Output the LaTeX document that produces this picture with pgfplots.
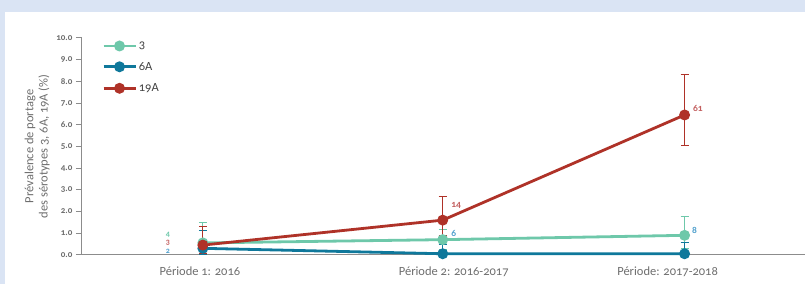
\documentclass[border=0pt]{standalone}
\usepackage{fontspec}
\setmainfont{Carlito}[Numbers=OldStyle]
\usepackage{pgfplots}
\pgfplotsset{compat=1.18}
\definecolor{bgblue}{RGB}{218,228,244}
\definecolor{cgreen}{RGB}{110,200,170}
\definecolor{cblue}{RGB}{15,120,155}
\definecolor{cred}{RGB}{175,50,40}
\definecolor{axgray}{RGB}{140,140,140}
\definecolor{txtgray}{RGB}{110,110,110}
\definecolor{lblue}{RGB}{80,160,205}
\definecolor{lred}{RGB}{195,95,95}
\begin{document}
\begin{tikzpicture}[x=1pt,y=1pt]
\fill[bgblue] (0,0) rectangle (805,284);
\fill[white] (5,0) rectangle (805,272);
\begin{axis}[
  at={(82pt,29pt)}, anchor=origin,
  scale only axis, width=723pt, height=217pt,
  xmin=82, xmax=805, ymin=0, ymax=10,
  clip=false,
  axis x line=bottom, axis y line=left,
  axis line style={axgray, line width=1pt, -},
  xtick={200,454,668},
  xticklabels={Période 1: 2016, Période 2: 2016-2017, Période: 2017-2018},
  x tick label style={font=\fontsize{12.5}{14}\selectfont, text=txtgray, yshift=-2pt},
  major x tick style={draw=none},
  extra x ticks={343,565},
  extra x tick labels={},
  extra x tick style={major tick length=22pt, tick style={axgray, line width=1pt}},
  ytick={0,1,...,10},
  y tick label style={font=\bfseries\fontsize{9}{10}\selectfont, text=txtgray},
  yticklabel style={/pgf/number format/.cd, fixed, fixed zerofill, precision=1, assume math mode=true},
  y tick style={axgray, line width=1pt},
  tick align=outside, major tick length=6pt,
  ylabel={\shortstack{Prévalence de portage\\des sérotypes 3, 6A, 19A (\%)}},
  ylabel style={font=\fontsize{12.5}{14}\selectfont, text=txtgray, at={(axis description cs:-0.062,0.5)}, anchor=center},
  legend style={at={(axis cs:102,9.92)}, anchor=north west, draw=none, fill=none,
    font=\fontsize{12.5}{14}\selectfont, text=txtgray!60!black, row sep=8pt, inner sep=0pt},
  legend cell align=left,
  legend image code/.code={\draw[#1, mark=none] (0pt,0pt) -- (32pt,0pt); \fill[#1] (16pt,0pt) circle (4pt);},
  every axis plot/.append style={line width=2.8pt, mark=*, mark size=4pt,
    error bars/error bar style={line width=1pt}, error bars/error mark options={rotate=90, mark size=4pt, line width=1pt}},
]
\addplot[cgreen, error bars/.cd, y dir=both, y explicit] coordinates {
  (203,0.55) += (0,0.95) -= (0,0.55)
  (443,0.70) +- (0,0.45)
  (685,0.90) += (0,0.87) -= (0,0.6)
};
\addlegendentry{3}
\addplot[cblue, error bars/.cd, y dir=both, y explicit] coordinates {
  (203,0.30) += (0,0.8) -= (0,0.3)
  (443,0.05) += (0,0.42) -= (0,0.05)
  (685,0.05) += (0,0.50) -= (0,0.05)
};
\addlegendentry{6A}
\addplot[cred, error bars/.cd, y dir=both, y explicit] coordinates {
  (203,0.45) += (0,0.85) -= (0,0.4)
  (443,1.60) += (0,1.10) -= (0,0.70)
  (685,6.45) += (0,1.85) -= (0,1.42)
};
\addlegendentry{19A}
\begin{scope}[font=\bfseries\fontsize{8}{9}\selectfont, inner sep=0.3pt]
\node[text=cgreen] at (axis cs:168,0.92) {4};
\node[text=lred] at (axis cs:168,0.54) {3};
\node[text=lblue] at (axis cs:168,0.17) {2};
\end{scope}
\begin{scope}[font=\bfseries\fontsize{9.5}{10}\selectfont]
\node[text=lred, anchor=west] at (axis cs:448,2.28) {14};
\node[text=lblue, anchor=west] at (axis cs:448,0.98) {6};
\node[text=lblue, anchor=west] at (axis cs:689,1.12) {8};
\node[text=lred, anchor=west] at (axis cs:690,6.75) {61};
\end{scope}
\end{axis}
\end{tikzpicture}
\end{document}
